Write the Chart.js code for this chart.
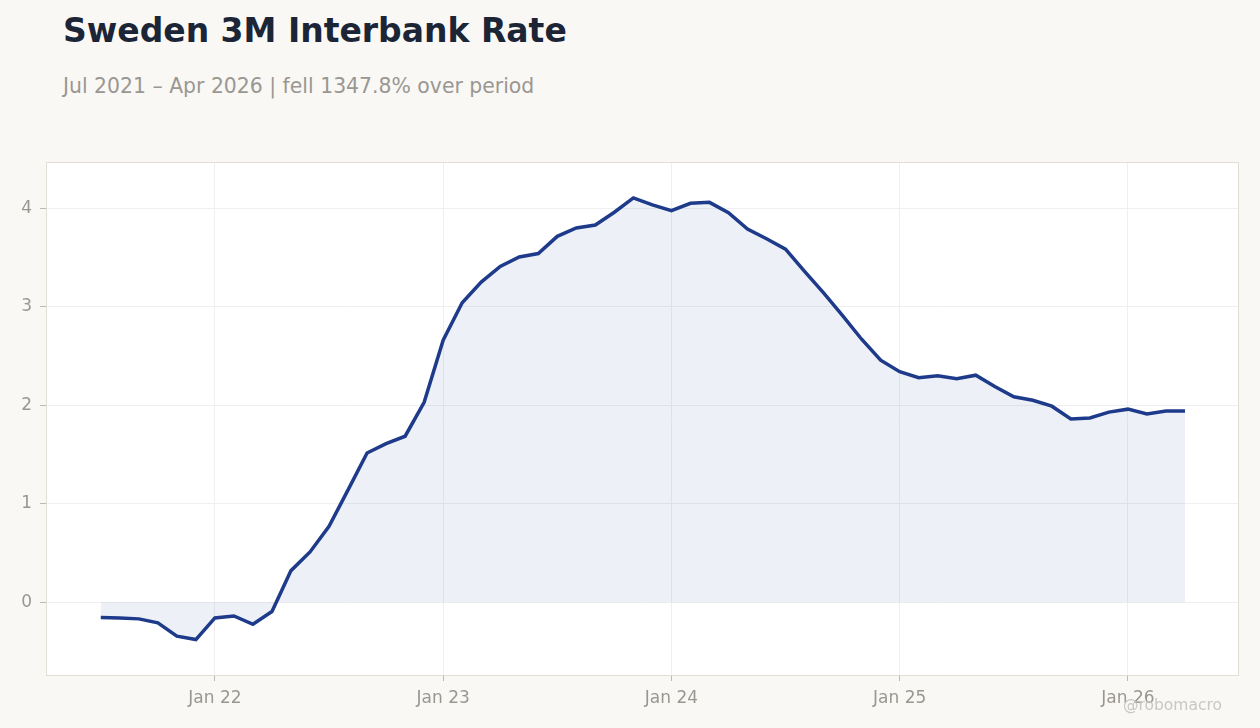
<!DOCTYPE html>
<html>
<head>
<meta charset="utf-8">
<script src="https://cdn.jsdelivr.net/npm/chart.js@4.4.1/dist/chart.umd.min.js"></script>
<style>
  html, body { margin: 0; padding: 0; background: #f9f8f5; }
  body { width: 1260px; height: 728px; position: relative; overflow: hidden; font-family: 'DejaVu Sans', sans-serif; }
  #title { position: absolute; left: 63px; top: 14px; font-size: 33px; font-weight: bold; color: #1c2536; line-height: 33px; white-space: nowrap; }
  #subtitle { position: absolute; left: 63px; top: 76px; font-size: 20.4px; color: #9a9792; line-height: 20px; white-space: nowrap; }
  #credit { position: absolute; right: 38px; top: 698px; font-size: 15.5px; color: #c9c7c3; line-height: 15px; }
  canvas { position: absolute; left: 0; top: 0; }
</style>
</head>
<body>
<div id="title">Sweden 3M Interbank Rate</div>
<div id="subtitle">Jul 2021 – Apr 2026 | fell 1347.8% over period</div>
<canvas id="canvas" width="1260" height="728"></canvas>
<div id="credit">@robomacro</div>
<script>
// monthly observations, Jul 2021 .. Apr 2026
const months = [
  '2021-07', '2021-08', '2021-09', '2021-10', '2021-11', '2021-12',
  '2022-01', '2022-02', '2022-03', '2022-04', '2022-05', '2022-06',
  '2022-07', '2022-08', '2022-09', '2022-10', '2022-11', '2022-12',
  '2023-01', '2023-02', '2023-03', '2023-04', '2023-05', '2023-06',
  '2023-07', '2023-08', '2023-09', '2023-10', '2023-11', '2023-12',
  '2024-01', '2024-02', '2024-03', '2024-04', '2024-05', '2024-06',
  '2024-07', '2024-08', '2024-09', '2024-10', '2024-11', '2024-12',
  '2025-01', '2025-02', '2025-03', '2025-04', '2025-05', '2025-06',
  '2025-07', '2025-08', '2025-09', '2025-10', '2025-11', '2025-12',
  '2026-01', '2026-02', '2026-03', '2026-04'
];
const rates = [
  -0.155, -0.16, -0.17, -0.21, -0.345, -0.38,
  -0.16, -0.14, -0.225, -0.095, 0.32, 0.51,
  0.77, 1.14, 1.515, 1.61, 1.685, 2.03,
  2.66, 3.04, 3.25, 3.41, 3.505, 3.54,
  3.715, 3.80, 3.83, 3.96, 4.105, 4.035,
  3.975, 4.05, 4.06, 3.955, 3.79, 3.69,
  3.585, 3.36, 3.14, 2.91, 2.67, 2.457,
  2.34, 2.28, 2.30, 2.27, 2.305, 2.19,
  2.085, 2.05, 1.99, 1.86, 1.87, 1.93,
  1.96, 1.91, 1.94, 1.94
];
const xTickMonths = ['2022-01', '2023-01', '2024-01', '2025-01', '2026-01'];
const xTickLabels = ['Jan 22', 'Jan 23', 'Jan 24', 'Jan 25', 'Jan 26'];
const yTicks = [0, 1, 2, 3, 4];

// months counted from Jan 2021 so the x axis can be linear
const monthIndex = (s) => {
  const [y, m] = s.split('-').map(Number);
  return (y - 2021) * 12 + (m - 1);
};

const points = months.map((m, i) => ({ x: monthIndex(m), y: rates[i] }));
const tickIdx = xTickMonths.map(monthIndex);

const plotFrame = {
  id: 'plotFrame',
  beforeDraw(chart) {
    const { ctx, chartArea: a } = chart;
    ctx.save();
    ctx.fillStyle = '#ffffff';
    ctx.fillRect(a.left, a.top, a.right - a.left, a.bottom - a.top);
    ctx.restore();
  },
  afterDraw(chart) {
    const { ctx, chartArea: a } = chart;
    ctx.save();
    ctx.strokeStyle = '#e2ddd5';
    ctx.lineWidth = 1;
    ctx.strokeRect(a.left + 0.5, a.top + 0.5, a.right - a.left - 1, a.bottom - a.top);
    ctx.restore();
  }
};

new Chart(document.getElementById('canvas'), {
  type: 'line',
  data: {
    datasets: [{
      data: points,
      borderColor: '#1e3a8a',
      backgroundColor: 'rgba(30, 58, 138, 0.08)',
      borderWidth: 3.5,
      fill: 'origin',
      tension: 0,
      pointRadius: 0,
      pointHoverRadius: 0
    }]
  },
  options: {
    responsive: false,
    animation: false,
    layout: { padding: { left: 0, top: 162, right: 21, bottom: 0 } },
    plugins: {
      legend: { display: false },
      tooltip: { enabled: false }
    },
    scales: {
      x: {
        type: 'linear',
        min: 3.12,
        max: 65.84,
        afterBuildTicks: (axis) => { axis.ticks = tickIdx.map(v => ({ value: v })); },
        afterFit: (axis) => { axis.height = 53; },
        ticks: {
          callback: (v) => xTickLabels[tickIdx.indexOf(v)],
          color: '#9a9792',
          font: { family: 'DejaVu Sans', size: 17 },
          padding: 7,
          maxRotation: 0
        },
        grid: { color: '#efefef', tickColor: '#bdb9b3', tickLength: 6 },
        border: { display: false }
      },
      y: {
        min: -0.74,
        max: 4.47,
        afterBuildTicks: (axis) => { axis.ticks = yTicks.map(v => ({ value: v })); },
        afterFit: (axis) => { axis.width = 46; },
        ticks: {
          color: '#9a9792',
          font: { family: 'DejaVu Sans', size: 17 },
          padding: 8
        },
        grid: { color: '#efefef', tickColor: '#bdb9b3', tickLength: 6 },
        border: { display: false }
      }
    }
  },
  plugins: [plotFrame]
});
</script>
</body>
</html>
